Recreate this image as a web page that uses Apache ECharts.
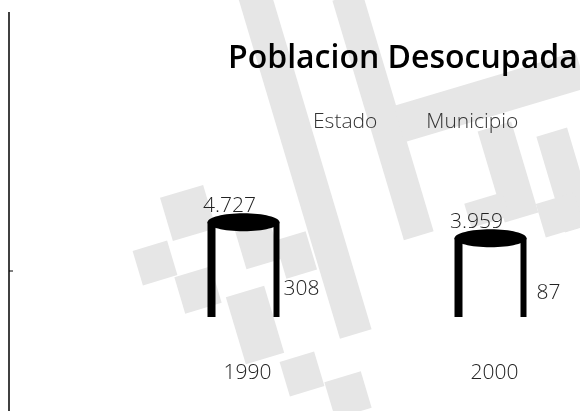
<!DOCTYPE html>
<html>
<head>
<meta charset="utf-8">
<title>Poblacion Desocupada</title>
<script src="https://cdn.jsdelivr.net/npm/echarts@6/dist/echarts.min.js"></script>
<style>
  html, body { margin: 0; padding: 0; background: #fff; }
  #container { width: 580px; height: 411px; }
</style>
</head>
<body>
<div id="container"></div>
<script>
var years = ['1990', '2000'];
var estado = [4727, 3959];
var municipio = [308, 87];

// numero con punto de miles
function fmt(v) {
    return String(v).replace(/\B(?=(\d{3})+(?!\d))/g, '.');
}

var labelFont = '300 21px "Open Sans"';

// cilindro: paredes + tapa negra, como el original
function renderEstado(params, api) {
    var top = api.coord([api.value(0), api.value(1)]);
    var base = api.coord([api.value(0), 0]);
    var cx = top[0] - 4;
    var rx = 36;
    var y0 = top[1], y1 = base[1] - 3;
    return {
        type: 'group',
        children: [
            { type: 'rect', shape: { x: cx - rx, y: y0, width: 8, height: y1 - y0 }, style: { fill: '#000' } },
            { type: 'rect', shape: { x: cx + rx - 6, y: y0, width: 6, height: y1 - y0 }, style: { fill: '#000' } },
            { type: 'ellipse', shape: { cx: cx, cy: y0, rx: rx, ry: 9 }, style: { fill: '#000' } },
            { type: 'text', style: { text: fmt(api.value(1)), x: cx - 14, y: y0 - 16, align: 'center', verticalAlign: 'middle', font: labelFont, fill: '#222' } }
        ]
    };
}

function renderMunicipio(params, api) {
    var top = api.coord([api.value(0), api.value(1)]);
    var base = api.coord([api.value(0), 0]);
    var cx = top[0] + 54;
    return {
        type: 'group',
        children: [
            { type: 'rect', shape: { x: cx - 10, y: top[1], width: 20, height: base[1] - top[1] }, style: { fill: 'rgba(255,255,255,0)' } },
            { type: 'text', style: { text: fmt(api.value(1)), x: cx, y: top[1] - 25, align: 'center', verticalAlign: 'middle', font: labelFont, fill: '#222' } }
        ]
    };
}

// marca de agua gris de fondo
var wm = [
    [305, 164, 33, 355], [383, 116, 31, 250], [490, 97, 190, 38],
    [508, 172, 35, 95], [566, 180, 32, 100],
    [188, 213, 45, 45], [155, 263, 36, 36], [198, 290, 38, 38],
    [258, 245, 36, 40], [296, 255, 32, 40], [255, 325, 40, 70],
    [302, 374, 36, 36], [348, 395, 38, 38], [487, 210, 40, 25], [560, 215, 40, 35]
];
var graphics = wm.map(function (r) {
    return {
        type: 'rect', silent: true, z: 0,
        x: r[0], y: r[1], rotation: 0.29,
        shape: { x: -r[2] / 2, y: -r[3] / 2, width: r[2], height: r[3] },
        style: { fill: '#e6e6e6' }
    };
});
graphics.push({ type: 'line', silent: true, z: 5, shape: { x1: 9, y1: 12, x2: 9, y2: 411 }, style: { stroke: '#000', lineWidth: 1.5 } });
graphics.push({ type: 'line', silent: true, z: 5, shape: { x1: 9, y1: 271, x2: 13, y2: 271 }, style: { stroke: '#000', lineWidth: 1 } });

var myChart = echarts.init(document.getElementById('container'));
var option = {
    backgroundColor: '#fff',
    animation: false,
    title: {
        text: 'Poblacion Desocupada',
        left: 223,
        top: 38,
        textStyle: { fontFamily: 'Open Sans', fontWeight: 600, fontSize: 32, color: '#000' }
    },
    legend: {
        left: 293,
        top: 107,
        icon: 'rect',
        itemWidth: 10,
        itemHeight: 10,
        itemGap: 34,
        textStyle: { fontFamily: 'Open Sans', fontWeight: 300, fontSize: 21, color: '#333' },
        data: [
            { name: 'Estado', itemStyle: { color: 'rgba(255,255,255,0)' } },
            { name: 'Municipio', itemStyle: { color: 'rgba(255,255,255,0)' } }
        ]
    },
    graphic: graphics,
    grid: { left: 124, width: 494, top: 196, height: 124, outerBoundsMode: 'none' },
    xAxis: {
        type: 'category',
        data: years,
        axisLine: { show: false },
        axisTick: { show: false },
        axisLabel: { margin: 43, fontFamily: 'Open Sans', fontWeight: 300, fontSize: 21, color: '#222' }
    },
    yAxis: { type: 'value', min: 0, max: 6000, show: false },
    series: [
        { name: 'Estado', type: 'custom', color: '#fff', renderItem: renderEstado, data: years.map(function (y, i) { return [i, estado[i]]; }) },
        { name: 'Municipio', type: 'custom', color: '#fff', renderItem: renderMunicipio, data: years.map(function (y, i) { return [i, municipio[i]]; }) }
    ]
};
myChart.setOption(option);
</script>
</body>
</html>
